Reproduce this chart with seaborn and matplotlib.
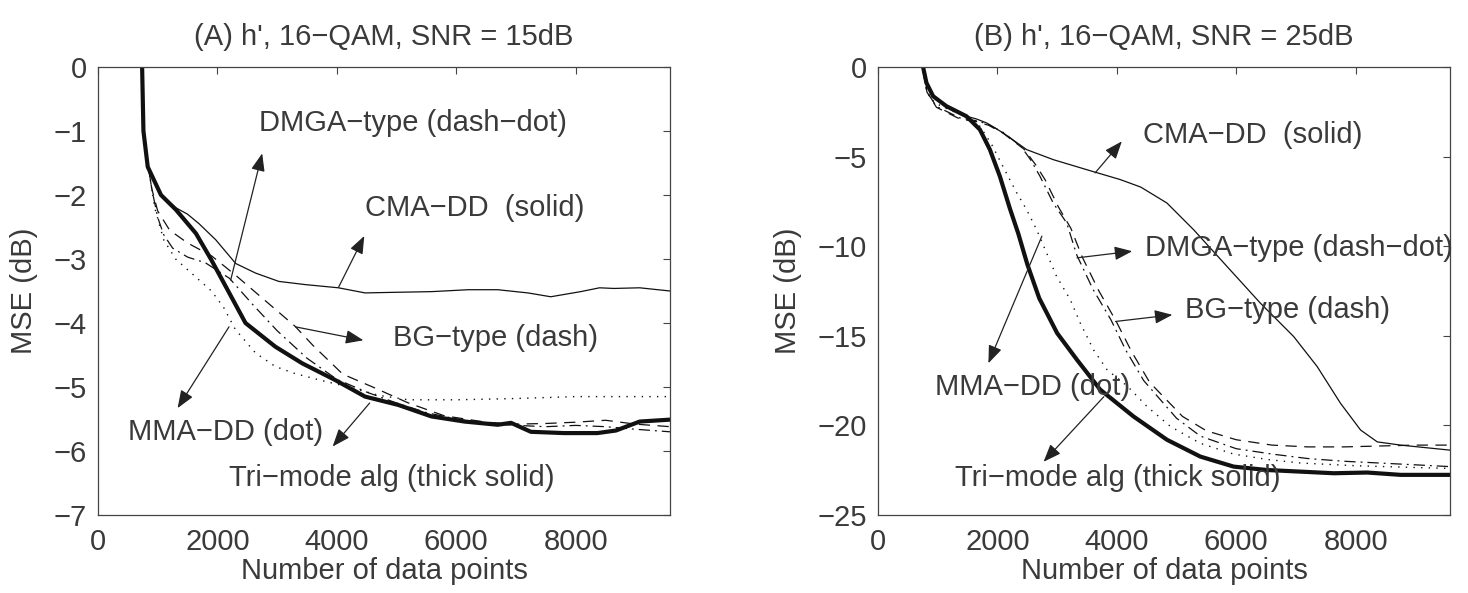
import matplotlib
matplotlib.use("Agg")
import matplotlib.pyplot as plt
import seaborn as sns
import pandas as pd

# ---------------- data ----------------
x_ticks = [0, 2000, 4000, 6000, 8000]
a_yticks = [0, -1, -2, -3, -4, -5, -6, -7]
b_yticks = [0, -5, -10, -15, -20, -25]
titles = ["(A) h', 16\u2212QAM, SNR = 15dB", "(B) h', 16\u2212QAM, SNR = 25dB"]
xlabel = "Number of data points"
ylabel = "MSE (dB)"

# Panel A
a_tri_x = [730, 739, 761, 833, 1055, 1305, 1640, 1890, 2140, 2470, 2970, 3420, 3970, 4473, 5028, 5585,
           6140, 6695, 6917, 7250, 7805, 8362, 8675, 9073, 9580]
a_tri_y = [0.5, 0.0, -1.0, -1.56, -2.0, -2.23, -2.6, -3.0, -3.43, -4.0, -4.37, -4.63, -4.89, -5.15, -5.28,
           -5.46, -5.54, -5.59, -5.56, -5.70, -5.72, -5.72, -5.68, -5.54, -5.51]
a_cma_x = [730, 739, 761, 833, 1055, 1305, 1500, 1694, 1972, 2306, 2639, 3028, 3472, 4028, 4473, 5000,
           5585, 6200, 6695, 7200, 7583, 8083, 8400, 8640, 9073, 9580]
a_cma_y = [0.5, 0.0, -1.0, -1.56, -2.0, -2.2, -2.3, -2.45, -2.70, -3.07, -3.22, -3.35, -3.40, -3.45, -3.53,
           -3.52, -3.51, -3.48, -3.48, -3.53, -3.59, -3.51, -3.45, -3.46, -3.45, -3.50]
a_mma_x = [730, 745, 770, 850, 950, 1100, 1300, 1600, 1900, 2100, 2300, 2640, 2970, 3300, 3750, 4200,
           4700, 5200, 6000, 7000, 8000, 9000, 9580]
a_mma_y = [0.5, 0.0, -1.0, -1.6, -2.2, -2.7, -3.0, -3.25, -3.5, -3.75, -4.1, -4.47, -4.68, -4.79, -4.9,
           -5.0, -5.13, -5.2, -5.2, -5.18, -5.15, -5.15, -5.15]
a_dmga_x = [730, 745, 770, 833, 900, 1000, 1100, 1250, 1500, 1800, 2200, 2600, 3000, 3500, 4000, 4500,
            5000, 5500, 6000, 6500, 7000, 7500, 8000, 8500, 9000, 9580]
a_dmga_y = [0.5, 0.0, -1.0, -1.5, -1.9, -2.35, -2.62, -2.83, -2.97, -3.06, -3.3, -3.72, -4.12, -4.55,
            -4.88, -5.08, -5.25, -5.4, -5.5, -5.57, -5.6, -5.62, -5.6, -5.62, -5.66, -5.7]
a_bg_x = [730, 745, 770, 833, 900, 1000, 1200, 1500, 1900, 2300, 2800, 3300, 3600, 4100, 4600, 5200,
          5800, 6500, 7000, 7500, 8000, 8500, 9000, 9580]
a_bg_y = [0.5, 0.0, -1.0, -1.5, -1.9, -2.25, -2.55, -2.75, -2.95, -3.25, -3.65, -4.05, -4.35, -4.8, -5.0,
          -5.25, -5.45, -5.55, -5.58, -5.57, -5.55, -5.52, -5.58, -5.62]

# Panel B
b_tri_x = [740, 755, 811, 923, 1147, 1482, 1706, 1874, 2041, 2209, 2350, 2500, 2700, 3000, 3333, 3720,
           4279, 4839, 5398, 5957, 6517, 7076, 7635, 8194, 8753, 9580]
b_tri_y = [1.0, 0.0, -0.88, -1.63, -2.19, -2.75, -3.49, -4.61, -6.1, -7.9, -9.3, -11.0, -12.9, -14.85,
           -16.34, -18.0, -19.5, -20.8, -21.74, -22.3, -22.49, -22.58, -22.67, -22.63, -22.76, -22.76]
b_cma_x = [740, 755, 811, 923, 1147, 1482, 1650, 1818, 2097, 2489, 2936, 3496, 4055, 4400, 4839, 5286,
           5845, 6405, 6964, 7356, 7747, 8083, 8362, 8753, 9580]
b_cma_y = [1.0, 0.0, -0.88, -1.63, -2.19, -2.75, -2.9, -3.12, -3.68, -4.61, -5.17, -5.73, -6.28, -6.7,
           -7.59, -9.08, -11.13, -13.18, -15.05, -16.72, -18.77, -20.26, -20.92, -21.1, -21.38]
b_dmga_x = [740, 760, 820, 979, 1370, 1650, 1850, 2097, 2400, 2560, 2713, 2936, 3160, 3330, 3600, 3900,
            4150, 4450, 5000, 5400, 6000, 6600, 7200, 7800, 8400, 9000, 9580]
b_dmga_y = [1.0, -0.3, -1.4, -2.2, -2.84, -3.0, -3.2, -3.65, -4.45, -5.2, -6.1, -7.6, -8.7, -10.5, -12.4,
            -14.1, -15.8, -17.5, -19.6, -20.6, -21.3, -21.6, -21.85, -22.0, -22.1, -22.2, -22.3]
b_bg_x = [740, 760, 820, 979, 1370, 1650, 1850, 2097, 2450, 2650, 2800, 3020, 3230, 3420, 3700, 3990,
          4250, 4550, 5100, 5500, 6000, 6600, 7200, 7800, 8400, 9000, 9580]
b_bg_y = [1.0, -0.3, -1.4, -2.25, -2.9, -3.05, -3.25, -3.7, -4.6, -5.5, -6.3, -7.8, -9.0, -10.6, -12.5,
          -14.2, -15.9, -17.6, -19.5, -20.3, -20.8, -21.1, -21.2, -21.2, -21.15, -21.1, -21.1]
b_mma_x = [740, 760, 820, 950, 1200, 1500, 1706, 1900, 2100, 2320, 2489, 2657, 2824, 2992, 3221, 3389,
           3613, 3838, 4174, 4510, 4902, 5398, 5957, 6517, 7076, 8000, 9000, 9580]
b_mma_y = [1.0, -0.3, -1.4, -2.0, -2.4, -2.8, -3.3, -4.3, -5.6, -7.0, -7.96, -9.08, -10.38, -11.69,
           -12.99, -14.3, -15.8, -16.9, -17.8, -18.96, -20.07, -21.0, -21.6, -21.9, -22.1, -22.25, -22.35,
           -22.4]

# annotation labels: text, text anchor (x, y), arrow start (on curve), arrow tip
a_labels = ["DMGA\u2212type (dash\u2212dot)", "CMA\u2212DD  (solid)", "BG\u2212type (dash)",
            "MMA\u2212DD (dot)", "Tri\u2212mode alg (thick solid)"]
a_text_xy = [(2694, -0.87), (4473, -2.2), (4945, -4.24), (500, -5.70), (2194, -6.42)]
a_arrow_from = [(2222, -3.33), (4030, -3.44), (3306, -4.06), (2194, -4.06), (4550, -5.25)]
a_arrow_to = [(2750, -1.35), (4460, -2.64), (4445, -4.27), (1333, -5.33), (3930, -5.93)]

b_labels = ["CMA\u2212DD  (solid)", "DMGA\u2212type (dash\u2212dot)", "BG\u2212type (dash)",
            "MMA\u2212DD (dot)", "Tri\u2212mode alg (thick solid)"]
b_text_xy = [(4446, -3.8), (4475, -10.1), (5146, -13.55), (951, -17.83), (1286, -22.95)]
b_arrow_from = [(3636, -5.91), (3333, -10.65), (3978, -14.2), (2745, -9.44), (3782, -18.4)]
b_arrow_to = [(4084, -4.15), (4258, -10.28), (4930, -13.83), (1849, -16.53), (2773, -22.03)]

# ---------------- styling ----------------
sns.set_theme(style="white")
plt.rcParams["font.family"] = ["Liberation Sans", "DejaVu Sans"]
TXT = "#3a3a3a"
FS = 21

fig = plt.figure(figsize=(14.68, 5.93), dpi=100)
axA = fig.add_axes([98 / 1468, (593 - 515) / 593, 572 / 1468, 448 / 593])
axB = fig.add_axes([878 / 1468, (593 - 515) / 593, 572 / 1468, 448 / 593])

dot_ls = (0, (1.0, 4.5))
dash_ls = (0, (9, 6))
dashdot_ls = (0, (9, 4, 1.5, 4))


def draw(ax, series):
    for xs, ys, ls, lw in series:
        df = pd.DataFrame({"x": xs, "y": ys})
        sns.lineplot(data=df, x="x", y="y", ax=ax, color="#111111", linewidth=lw,
                     linestyle=ls, estimator=None, sort=False)


draw(axA, [
    (a_cma_x, a_cma_y, "-", 0.9),
    (a_mma_x, a_mma_y, dot_ls, 1.0),
    (a_dmga_x, a_dmga_y, dashdot_ls, 0.9),
    (a_bg_x, a_bg_y, dash_ls, 0.9),
    (a_tri_x, a_tri_y, "-", 3.0),
])
draw(axB, [
    (b_cma_x, b_cma_y, "-", 0.9),
    (b_mma_x, b_mma_y, dot_ls, 1.0),
    (b_dmga_x, b_dmga_y, dashdot_ls, 0.9),
    (b_bg_x, b_bg_y, dash_ls, 0.9),
    (b_tri_x, b_tri_y, "-", 3.0),
])


def annotate(ax, labels, txy, afrom, ato):
    for lab, t, f, to in zip(labels, txy, afrom, ato):
        ax.text(t[0], t[1], lab, fontsize=FS, color=TXT, ha="left", va="center", clip_on=False)
        ax.annotate("", xy=to, xytext=f,
                    arrowprops=dict(arrowstyle="-|>,head_length=0.9,head_width=0.35",
                                    color="#222222", lw=0.9, shrinkA=0, shrinkB=0),
                    annotation_clip=False)


annotate(axA, a_labels, a_text_xy, a_arrow_from, a_arrow_to)
annotate(axB, b_labels, b_text_xy, b_arrow_from, b_arrow_to)

for ax, yt, ylim, title in [(axA, a_yticks, (-7, 0), titles[0]), (axB, b_yticks, (-25, 0), titles[1])]:
    ax.set_xlim(0, 9580)
    ax.set_ylim(*ylim)
    ax.set_xticks(x_ticks)
    ax.set_yticks(yt)
    ax.set_xlabel(xlabel, fontsize=FS, color=TXT, labelpad=1)
    ax.set_ylabel(ylabel, fontsize=FS, color=TXT, labelpad=11)
    ax.set_title(title, fontsize=FS, color=TXT, pad=16)
    ax.tick_params(direction="in", length=5, width=0.8, top=True, right=True,
                   labelsize=FS, labelcolor=TXT, color="#444444")
    ax.tick_params(axis="x", pad=9)
    ax.tick_params(axis="y", pad=8)
    for s in ax.spines.values():
        s.set_color("#444444")
        s.set_linewidth(0.9)
    ax.set_facecolor("white")

fig.savefig("out.png", dpi=100, facecolor="white")
